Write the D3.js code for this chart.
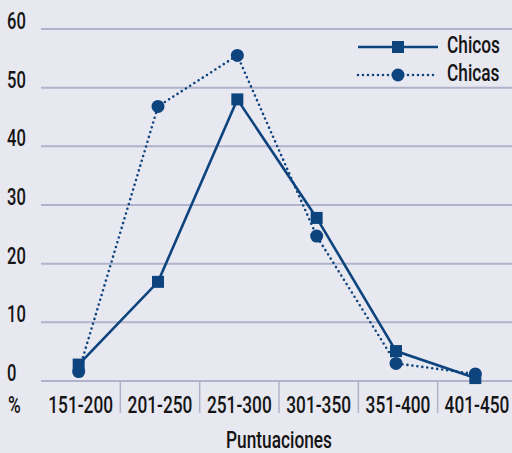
<!DOCTYPE html>
<html><head><meta charset="utf-8">
<script src="https://cdn.jsdelivr.net/npm/d3@7"></script>
<style>
html,body{margin:0;padding:0;background:#e8e8f1;}
svg{display:block;}
text{font-family:Roboto,"DejaVu Sans",sans-serif;font-weight:500;fill:#151515;}
</style></head><body>
<script>
const categories = ["151-200","201-250","251-300","301-350","351-400","401-450"];
const chicos = [2.8, 16.9, 48.0, 27.8, 5.1, 0.5];
const chicas = [1.6, 46.8, 55.5, 24.7, 3.0, 1.2];
const yTicks = [0,10,20,30,40,50,60];
const seriesNames = ["Chicos","Chicas"];

const W=512,H=453;
const svg=d3.select("body").append("svg").attr("width",W).attr("height",H);
svg.append("rect").attr("width",W).attr("height",H).attr("fill","#e8e8f1");

const x=d3.scaleBand().domain(categories).range([41,517]);
const y=d3.scaleLinear().domain([0,60]).range([381,29]);
const color="#0d447e", grid="#b0b3cb";
const condense=0.72;
// place condensed text: anchor point (px,py), squeezed horizontally
function place(sel,px,py){
  sel.attr("transform",(d,i)=>`translate(${px(d,i)},${py(d,i)}) scale(${condense},1)`)
     .attr("x",0).attr("y",0);
}

// gridlines
svg.append("g").selectAll("line").data(yTicks).join("line")
  .attr("x1",41).attr("x2",W).attr("y1",d=>y(d)).attr("y2",d=>y(d))
  .attr("stroke",grid).attr("stroke-width",2);
// y labels
svg.append("g").selectAll("text").data(yTicks).join("text")
  .text(d=>d).style("font-size","23px").call(place,()=>7,d=>y(d));
// category separators
svg.append("g").selectAll("line").data(categories.slice(1)).join("line")
  .attr("x1",d=>x(d)).attr("x2",d=>x(d)).attr("y1",381).attr("y2",413)
  .attr("stroke",grid).attr("stroke-width",1.5);
// x labels
svg.append("g").selectAll("text").data(categories).join("text")
  .attr("text-anchor","middle").text(d=>d).style("font-size","24px")
  .call(place,d=>Math.min(x(d)+x.bandwidth()/2,477),()=>413);
svg.append("g").selectAll("text").data(["%"]).join("text").text(d=>d).style("font-size","24px").call(place,()=>8,()=>413);
svg.append("g").selectAll("text").data(["Puntuaciones"]).join("text").attr("text-anchor","middle").text(d=>d)
  .style("font-size","24px").call(place,()=>279,()=>448);

const cx=(d,i)=>x(categories[i])+x.bandwidth()/2-2;
const line=d3.line().x((d,i)=>cx(d,i)).y(d=>y(d));

// Chicas dotted
svg.append("path").datum(chicas).attr("d",line).attr("fill","none")
  .attr("stroke",color).attr("stroke-width",2.6).attr("stroke-dasharray","0,5").attr("stroke-linecap","round");
svg.append("g").selectAll("circle").data(chicas).join("circle")
  .attr("cx",cx).attr("cy",d=>y(d)).attr("r",6.5).attr("fill",color);
// Chicos solid
svg.append("path").datum(chicos).attr("d",line).attr("fill","none")
  .attr("stroke",color).attr("stroke-width",2.6);
svg.append("g").selectAll("rect").data(chicos).join("rect")
  .attr("x",(d,i)=>cx(d,i)-6).attr("y",d=>y(d)-6).attr("width",12).attr("height",12).attr("fill",color);

// legend
const leg=svg.append("g");
const ly=[47,75];
leg.append("line").attr("x1",358).attr("x2",438).attr("y1",ly[0]).attr("y2",ly[0]).attr("stroke",color).attr("stroke-width",2.6);
leg.append("rect").attr("x",392).attr("y",ly[0]-6).attr("width",12).attr("height",12).attr("fill",color);
leg.append("line").attr("x1",358).attr("x2",438).attr("y1",ly[1]).attr("y2",ly[1]).attr("stroke",color).attr("stroke-width",2.6).attr("stroke-dasharray","0,5").attr("stroke-linecap","round");
leg.append("circle").attr("cx",398).attr("cy",ly[1]).attr("r",6.5).attr("fill",color);
leg.selectAll("text.l").data(seriesNames).join("text")
  .text(d=>d).style("font-size","24px").call(place,()=>447,(d,i)=>ly[i]+6);
</script>
</body></html>
